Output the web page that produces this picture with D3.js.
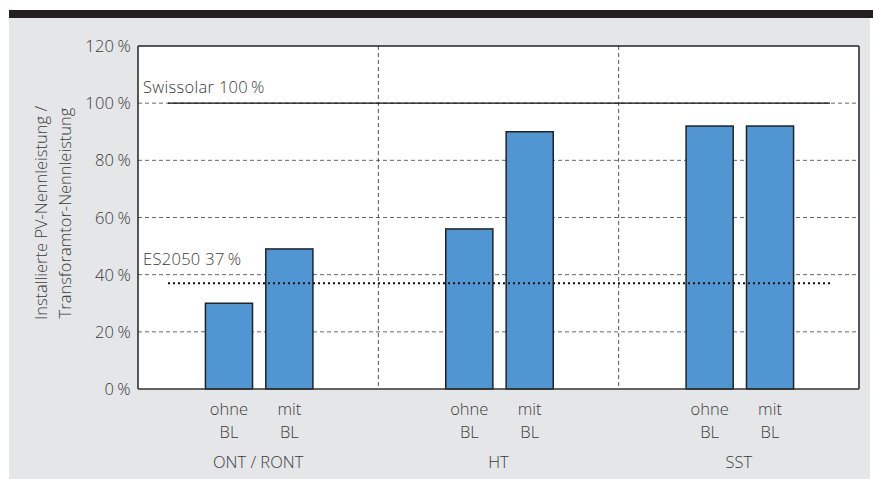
<!DOCTYPE html>
<html><head><meta charset="utf-8">
<script src="https://cdn.jsdelivr.net/npm/d3@7"></script>
<style>
body{margin:0;background:#fff;}
text{font-family:"Open Sans",Lato,sans-serif;font-weight:300;fill:#3a3a3a;}
</style></head><body>
<svg id="c" width="873" height="479"></svg>
<script>
const groups = ["ONT / RONT", "HT", "SST"];
const subLabels = ["ohne", "mit"];
const ohneValues = [30, 56, 92];
const mitValues = [49, 90, 92];
const yTicks = [0, 20, 40, 60, 80, 100, 120];
const refLines = [{label: "Swissolar 100\u2009%", value: 100, style: "solid"}, {label: "ES2050 37\u2009%", value: 37, style: "dotted"}];
const yTitle = ["Installierte PV-Nennleistung /", "Transforamtor-Nennleistung"];

const svg = d3.select("#c");
svg.append("rect").attr("x",9).attr("y",18).attr("width",861).attr("height",461).attr("fill","#e5e6e8");
svg.append("rect").attr("x",9).attr("y",10).attr("width",864).attr("height",8).attr("fill","#231f20");

const L=138, R=859, T=46, B=389;
const y = d3.scaleLinear().domain([0,120]).range([B,T]);
const x0 = d3.scaleBand().domain(groups).range([L,R]);
const x1 = d3.scaleBand().domain(subLabels).range([0,x0.bandwidth()]).paddingInner(0.22).paddingOuter(1.1);

svg.append("rect").attr("x",L).attr("y",T).attr("width",R-L).attr("height",B-T).attr("fill","#fff");

// grid
svg.append("g").selectAll("line").data(yTicks.filter(d=>d>0&&d<120)).join("line")
  .attr("x1",L).attr("x2",R).attr("y1",d=>y(d)).attr("y2",d=>y(d))
  .attr("stroke","#666").attr("stroke-width",1).attr("stroke-dasharray","4,3");
// vertical dividers
svg.append("g").selectAll("line").data(groups.slice(1)).join("line")
  .attr("x1",d=>x0(d)).attr("x2",d=>x0(d)).attr("y1",T).attr("y2",B)
  .attr("stroke","#555").attr("stroke-width",1).attr("stroke-dasharray","4,3");

// bars
const data = groups.flatMap((g,i)=>[{g,s:"ohne",v:ohneValues[i]},{g,s:"mit",v:mitValues[i]}]);
svg.append("g").selectAll("rect").data(data).join("rect")
  .attr("x",d=>x0(d.g)+x1(d.s)+1).attr("width",x1.bandwidth())
  .attr("y",d=>y(d.v)).attr("height",d=>y(0)-y(d.v))
  .attr("fill","#5096d3").attr("stroke","#222").attr("stroke-width",1.5);

// reference lines
const refX1 = 168, refX2 = 830;
refLines.forEach(r=>{
  svg.append("line").attr("x1",refX1).attr("x2",refX2).attr("y1",y(r.value)).attr("y2",y(r.value))
    .attr("stroke","#111").attr("stroke-width",r.style==="solid"?1.3:2)
    .attr("stroke-dasharray",r.style==="solid"?null:"2,3");
  svg.append("text").attr("x",143).attr("y",r.style==="solid"?y(r.value)-10:y(r.value)-18)
    .attr("font-size",16.5).attr("letter-spacing",0.3).text(r.label);
});

// frame
svg.append("line").attr("x1",L).attr("x2",R).attr("y1",T).attr("y2",T).attr("stroke","#222").attr("stroke-width",1.5);
svg.append("line").attr("x1",R).attr("x2",R).attr("y1",T).attr("y2",B).attr("stroke","#555").attr("stroke-width",2);
svg.append("line").attr("x1",L).attr("x2",L).attr("y1",T).attr("y2",B).attr("stroke","#222").attr("stroke-width",1.5);
svg.append("line").attr("x1",L).attr("x2",R).attr("y1",B).attr("y2",B).attr("stroke","#333").attr("stroke-width",1.5);

// y ticks
svg.append("g").selectAll("text").data(yTicks).join("text")
  .attr("x",131).attr("y",d=>y(d)+6).attr("text-anchor","end").attr("font-size",16.5).attr("letter-spacing",0.3)
  .text(d=>d+"\u2009%");

// y title
const yt = svg.append("text").attr("transform","translate(0,213) rotate(-90)").attr("text-anchor","middle").attr("font-size",16.5);
yt.append("tspan").attr("x",0).attr("y",47).text(yTitle[0]);
yt.append("tspan").attr("x",0).attr("y",71).text(yTitle[1]);

// x labels
data.forEach(d=>{
  const cx = x0(d.g)+x1(d.s)+1+x1.bandwidth()/2;
  svg.append("text").attr("x",cx).attr("y",415).attr("text-anchor","middle").attr("font-size",16.5).text(d.s);
  svg.append("text").attr("x",cx).attr("y",438).attr("text-anchor","middle").attr("font-size",16.5).text("BL");
});
svg.append("g").selectAll("text").data(groups).join("text")
  .attr("x",d=>x0(d)+x0.bandwidth()/2).attr("y",468).attr("text-anchor","middle").attr("font-size",16.5).text(d=>d);
</script></body></html>
